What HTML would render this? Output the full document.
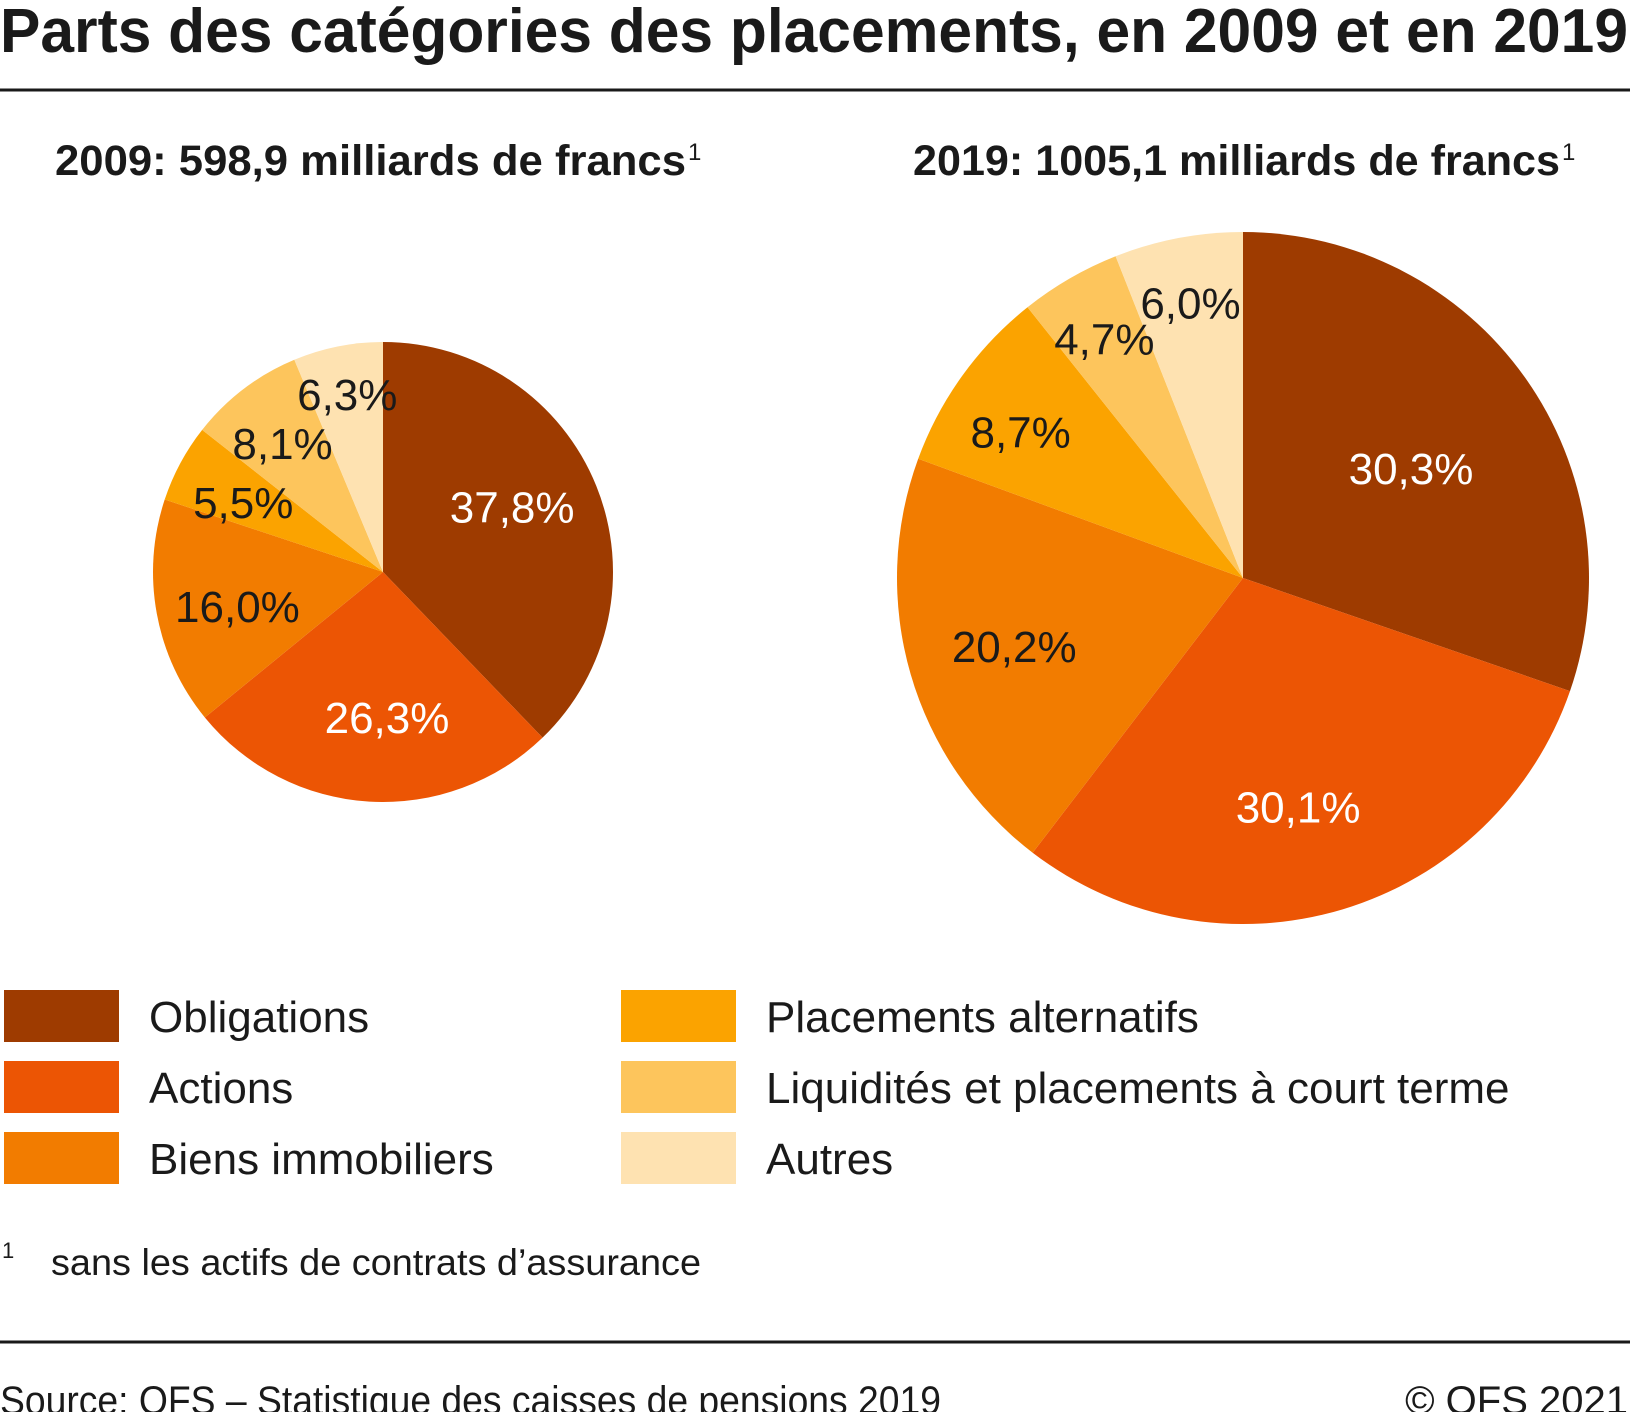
<!DOCTYPE html>
<html><head><meta charset="utf-8"><style>
html,body{margin:0;padding:0;background:#fff;}
svg{display:block;}
text{font-family:"Liberation Sans",sans-serif;fill:#1a1a1a;}
</style></head>
<body>
<svg id="chart" width="1630" height="1412" viewBox="0 0 1630 1412">
  <text x="0" y="52" font-size="62" font-weight="bold" textLength="1628" lengthAdjust="spacingAndGlyphs">Parts des catégories des placements, en 2009 et en 2019</text>
  <rect x="0" y="88.5" width="1630" height="3" fill="#1a1a1a"/>
  <text x="55" y="175" font-size="43" font-weight="bold" textLength="631" lengthAdjust="spacingAndGlyphs">2009: 598,9 milliards de francs</text>
  <text x="688" y="160" font-size="24">1</text>
  <text x="913" y="175" font-size="43" font-weight="bold" textLength="647" lengthAdjust="spacingAndGlyphs">2019: 1005,1 milliards de francs</text>
  <text x="1562" y="160" font-size="24">1</text>
  <g id="pies"></g>
  <g id="legend"></g>
  <text x="2" y="1258" font-size="22">1</text>
  <text x="51" y="1275" font-size="37" textLength="650" lengthAdjust="spacingAndGlyphs">sans les actifs de contrats d’assurance</text>
  <rect x="0" y="1340.5" width="1630" height="3" fill="#1a1a1a"/>
  <text x="0" y="1414" font-size="40" textLength="941" lengthAdjust="spacingAndGlyphs">Source: OFS – Statistique des caisses de pensions 2019</text>
  <text x="1628" y="1414" font-size="40" text-anchor="end">© OFS 2021</text>
</svg>
<script>
const categories = ["Obligations","Actions","Biens immobiliers","Placements alternatifs","Liquidités et placements à court terme","Autres"];
const values2009 = [37.8,26.3,16.0,5.5,8.1,6.3];
const values2019 = [30.3,30.1,20.2,8.7,4.7,6.0];
const labels2009 = ["37,8%","26,3%","16,0%","5,5%","8,1%","6,3%"];
const labels2019 = ["30,3%","30,1%","20,2%","8,7%","4,7%","6,0%"];
const colors = ["#9e3b00","#ec5504","#f27c00","#fba300","#fdc55c","#fee2b1"];
const textColors = ["#fff","#fff","#1a1a1a","#1a1a1a","#1a1a1a","#1a1a1a"];
const NS = "http://www.w3.org/2000/svg";
const pies = document.getElementById("pies");
const legend = document.getElementById("legend");

function drawPie(vals, labs, cx, cy, r, year, labelR, labelShift) {
  const total = vals.reduce((a,b)=>a+b,0);
  const g = document.createElementNS(NS,"g");
  
  
  pies.appendChild(g);
  let acc = 0;
  vals.forEach((v,i)=>{
    const a0 = acc/total*2*Math.PI, a1 = (acc+v)/total*2*Math.PI;
    acc += v;
    const x0 = cx + r*Math.sin(a0), y0 = cy - r*Math.cos(a0);
    const x1 = cx + r*Math.sin(a1), y1 = cy - r*Math.cos(a1);
    const large = (a1-a0) > Math.PI ? 1 : 0;
    const p = document.createElementNS(NS,"path");
    p.setAttribute("d", `M${cx},${cy} L${x0},${y0} A${r},${r} 0 ${large} 1 ${x1},${y1} Z`);
    p.setAttribute("fill", colors[i]);
    
    
    g.appendChild(p);
  });
  acc = 0;
  vals.forEach((v,i)=>{
    const am = (acc + v/2)/total*2*Math.PI + labelShift[i]*Math.PI/180;
    acc += v;
    const lr = r*labelR[i];
    const lx = cx + lr*Math.sin(am), ly = cy - lr*Math.cos(am) + 16;
    const t = document.createElementNS(NS,"text");
    t.setAttribute("x", lx); t.setAttribute("y", ly);
    t.setAttribute("text-anchor","middle");
    t.setAttribute("font-size","44");
    t.setAttribute("style","fill:"+textColors[i]);
    t.textContent = labs[i];
    
    
    g.appendChild(t);
  });
}
drawPie(values2009, labels2009, 383, 572, 230, "2009", [0.63,0.63,0.65,0.68,0.71,0.79], [-5,-5,-2.7,-1.6,-0.7,0]);
drawPie(values2019, labels2019, 1243, 578, 346, "2019", [0.58,0.68,0.69,0.77,0.80,0.81], [2.3,3.2,-0.4,-2.4,0,0]);

categories.forEach((c,i)=>{
  const col = Math.floor(i/3), row = i%3;
  const sx = col===0 ? 4 : 621;
  const sy = 990 + row*71;
  const r = document.createElementNS(NS,"rect");
  r.setAttribute("x", sx); r.setAttribute("y", sy);
  r.setAttribute("width", 115); r.setAttribute("height", 52);
  r.setAttribute("fill", colors[i]);
  
  
  legend.appendChild(r);
  const t = document.createElementNS(NS,"text");
  t.setAttribute("x", sx + 145); t.setAttribute("y", sy + 42);
  t.setAttribute("font-size","44");
  t.textContent = c;
  
  
  legend.appendChild(t);
});
</script>
</body></html>
